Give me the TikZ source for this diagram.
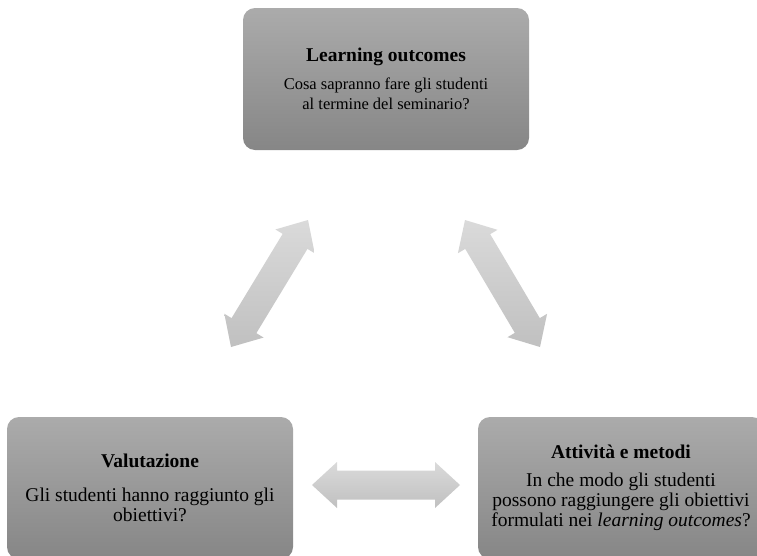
\documentclass[tikz,border=0pt]{standalone}
\usepackage{fontspec}
\setmainfont{Liberation Serif}
\usepackage{xcolor}
\usepackage{tikz}
\usetikzlibrary{calc}
\definecolor{CardTop}{RGB}{171,171,171}
\definecolor{CardBottom}{RGB}{134,134,134}
\definecolor{LinkTop}{RGB}{218,218,218}
\definecolor{LinkBottom}{RGB}{192,192,192}
\newcommand{\cardhead}[1]{{\fontsize{19.5}{20}\selectfont\bfseries #1}}
\newcommand{\twoway}[2]{%
  \path[link] (#1)
    -- ($(#1)!25pt!(#2)!23pt!90:(#2)$)
    -- ($(#1)!25pt!(#2)!14.5pt!90:(#2)$)
    -- ($(#2)!25pt!(#1)!14.5pt!-90:(#1)$)
    -- ($(#2)!25pt!(#1)!23pt!-90:(#1)$)
    -- (#2)
    -- ($(#2)!25pt!(#1)!23pt!90:(#1)$)
    -- ($(#2)!25pt!(#1)!14.5pt!90:(#1)$)
    -- ($(#1)!25pt!(#2)!14.5pt!-90:(#2)$)
    -- ($(#1)!25pt!(#2)!23pt!-90:(#2)$)
    -- cycle;}

\begin{document}
\begin{tikzpicture}[x=1pt,y=-1pt,
        card/.style={rounded corners=12pt,top color=CardTop,bottom color=CardBottom,
                     minimum width=286pt,minimum height=142pt,inner sep=4pt,align=center,
                     font=\fontsize{19.5}{20}\selectfont},
        link/.style={top color=LinkTop,bottom color=LinkBottom}
      ]
        \clip (0,0) rectangle (757,555);
        \node[card,font=\fontsize{16.5}{20}\selectfont] (LO) at (386,79)
          {\cardhead{Learning outcomes}\\[8pt]Cosa sapranno fare gli studenti\\al termine del seminario?};
        \node[card] (VA) at (150,488)
          {\cardhead{Valutazione}\\[14pt]Gli studenti hanno raggiunto gli\\obiettivi?};
        \node[card] (AM) at (621,488)
          {\cardhead{Attività e metodi}\\[8pt]In che modo gli studenti\\possono raggiungere gli obiettivi\\formulati nei \textit{learning outcomes}?};
        \coordinate (lv1) at (308,220); \coordinate (lv2) at (231,347);
        \coordinate (la1) at (465,220); \coordinate (la2) at (540,347);
        \coordinate (va1) at (312,485); \coordinate (va2) at (460,485);
        \twoway{lv1}{lv2} \twoway{la1}{la2} \twoway{va1}{va2}
      \end{tikzpicture}
\end{document}
